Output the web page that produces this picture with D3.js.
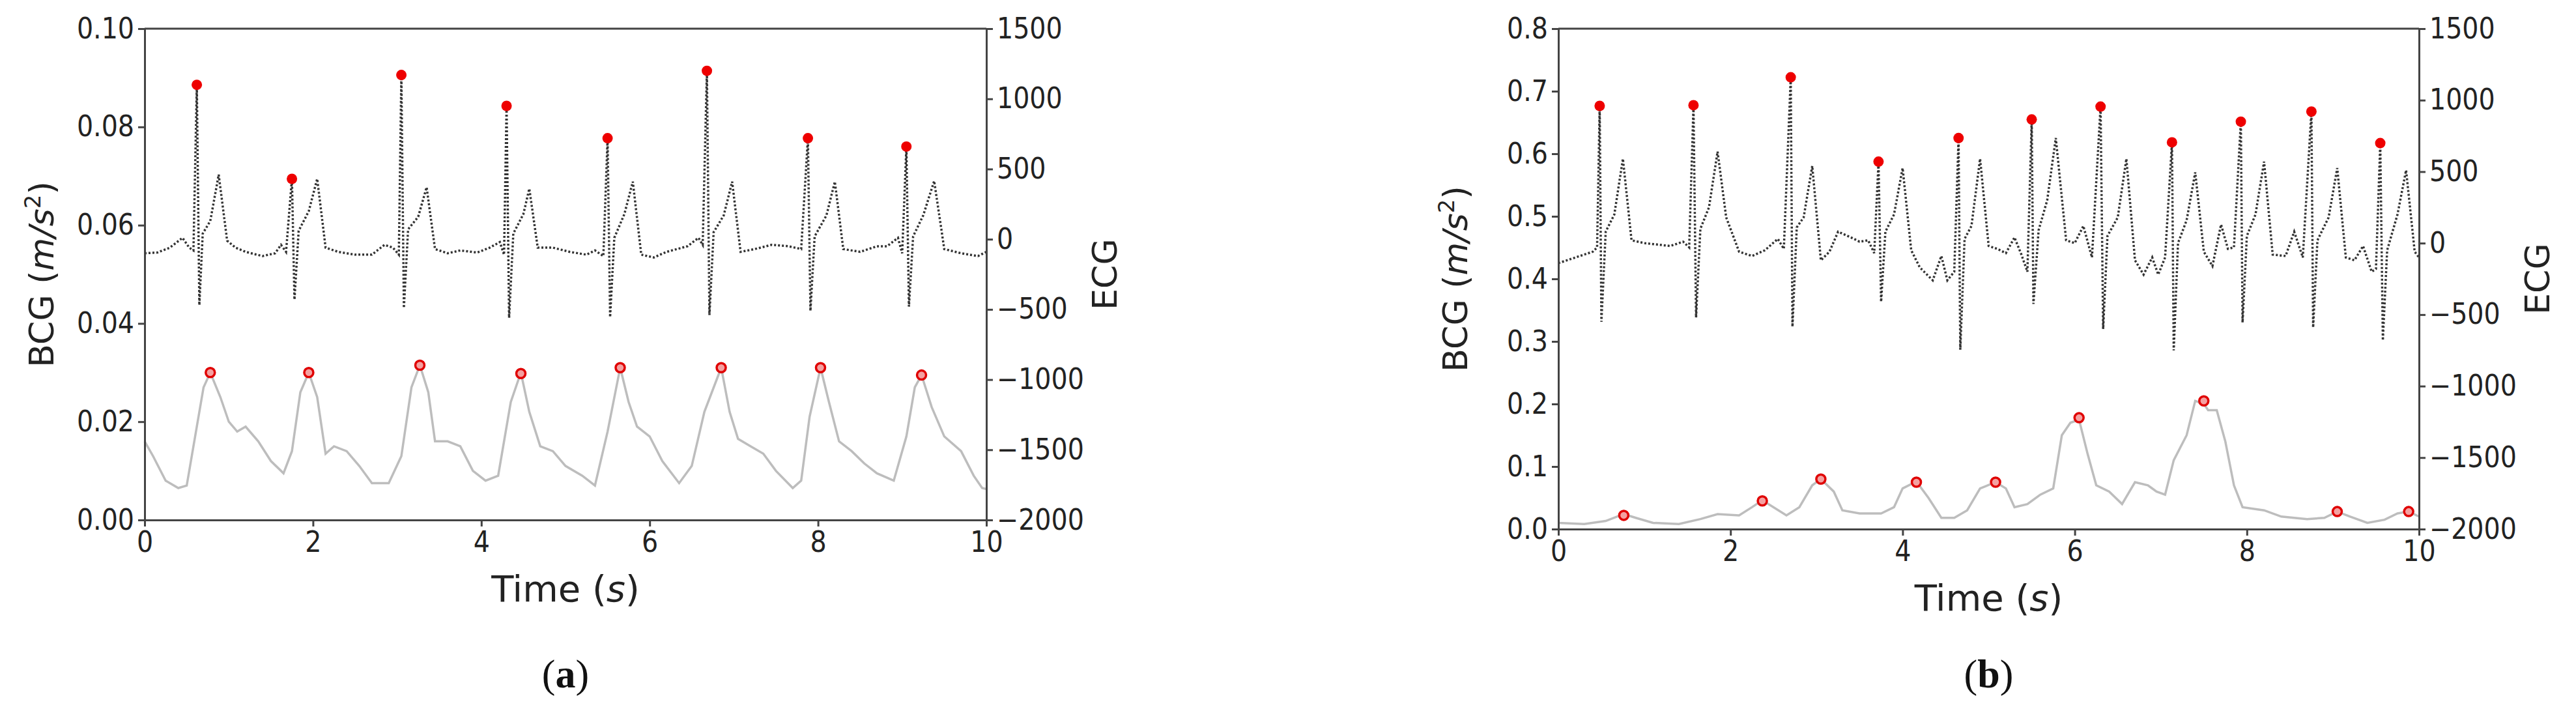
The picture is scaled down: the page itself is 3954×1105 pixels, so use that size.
<!DOCTYPE html>
<html>
<head>
<meta charset="utf-8">
<script src="https://cdn.jsdelivr.net/npm/d3@7"></script>
<style>
  body { margin: 0; background: #fff; }
  text { font-family: "DejaVu Sans", sans-serif; }
</style>
</head>
<body>
<svg id="chart" width="3954" height="1105"></svg>
<script>
'use strict';

// Panel (a) data: [time s, value]
var ecgA = [[0,-100],[0.15,-95],[0.3,-60],[0.45,10],[0.53,-60],[0.58,-80],[0.62,1100],[0.65,-470],[0.69,40],[0.78,130],[0.88,460],[0.98,-10],[1.08,-60],[1.2,-90],[1.4,-120],[1.55,-100],[1.62,-40],[1.68,-90],[1.75,430],[1.78,-430],[1.83,60],[1.95,200],[2.05,430],[2.15,-60],[2.3,-90],[2.5,-110],[2.7,-110],[2.85,-40],[2.95,-60],[3.02,-110],[3.05,1170],[3.08,-490],[3.13,70],[3.25,160],[3.35,370],[3.45,-70],[3.6,-100],[3.75,-80],[3.95,-95],[4.1,-60],[4.22,-20],[4.27,-110],[4.3,950],[4.33,-560],[4.38,40],[4.5,180],[4.57,360],[4.67,-60],[4.85,-60],[5.05,-90],[5.25,-110],[5.35,-80],[5.45,-120],[5.5,720],[5.53,-555],[5.58,10],[5.7,180],[5.8,410],[5.9,-110],[6.05,-130],[6.2,-90],[6.45,-50],[6.58,10],[6.63,-40],[6.68,1200],[6.71,-540],[6.76,50],[6.88,170],[6.98,410],[7.08,-90],[7.25,-70],[7.45,-40],[7.65,-50],[7.8,-70],[7.88,720],[7.91,-510],[7.96,20],[8.1,170],[8.2,410],[8.3,-70],[8.5,-90],[8.7,-50],[8.82,-50],[8.95,10],[9.0,-100],[9.05,660],[9.08,-480],[9.13,20],[9.25,170],[9.38,415],[9.5,-70],[9.7,-100],[9.9,-120],[10,-90]];
var ecgPeaksA = [[0.62,1100],[1.75,430],[3.05,1170],[4.3,950],[5.5,720],[6.68,1200],[7.88,720],[9.05,660]];
var bcgA = [[0,0.016],[0.1,0.013],[0.25,0.008],[0.4,0.0065],[0.5,0.007],[0.6,0.017],[0.7,0.027],[0.78,0.030],[0.9,0.025],[1.0,0.020],[1.1,0.018],[1.2,0.019],[1.35,0.016],[1.5,0.012],[1.65,0.0095],[1.75,0.014],[1.85,0.026],[1.95,0.030],[2.05,0.025],[2.15,0.0135],[2.25,0.015],[2.4,0.014],[2.55,0.011],[2.7,0.0075],[2.9,0.0075],[3.05,0.013],[3.17,0.027],[3.27,0.0315],[3.37,0.026],[3.45,0.016],[3.6,0.016],[3.75,0.015],[3.9,0.010],[4.05,0.008],[4.2,0.009],[4.35,0.024],[4.47,0.030],[4.57,0.022],[4.7,0.015],[4.85,0.014],[5.0,0.011],[5.2,0.009],[5.35,0.007],[5.5,0.018],[5.65,0.031],[5.75,0.024],[5.85,0.019],[6.0,0.017],[6.15,0.012],[6.35,0.0075],[6.5,0.011],[6.65,0.022],[6.85,0.031],[6.95,0.022],[7.05,0.0165],[7.2,0.015],[7.35,0.0135],[7.5,0.010],[7.7,0.0065],[7.8,0.008],[7.9,0.021],[8.03,0.031],[8.13,0.024],[8.25,0.016],[8.4,0.014],[8.55,0.0115],[8.7,0.0095],[8.9,0.008],[9.05,0.017],[9.15,0.027],[9.23,0.0295],[9.35,0.023],[9.5,0.017],[9.7,0.014],[9.85,0.009],[9.95,0.0065],[10,0.0063]];
var bcgPeaksA = [[0.78,0.030],[1.95,0.030],[3.27,0.0315],[4.47,0.0298],[5.65,0.031],[6.85,0.031],[8.03,0.031],[9.23,0.0295]];

// Panel (b) data
var ecgB = [[0,-140],[0.15,-110],[0.3,-80],[0.4,-60],[0.45,-30],[0.48,960],[0.5,-550],[0.55,80],[0.65,200],[0.75,590],[0.85,20],[1.0,0],[1.15,-10],[1.3,-20],[1.45,10],[1.52,-30],[1.57,965],[1.6,-520],[1.65,100],[1.75,250],[1.85,640],[1.95,180],[2.1,-60],[2.25,-90],[2.4,-50],[2.55,30],[2.62,-40],[2.7,1160],[2.72,-585],[2.77,110],[2.85,180],[2.95,540],[3.05,-120],[3.15,-60],[3.25,80],[3.4,40],[3.5,10],[3.6,20],[3.67,-70],[3.72,570],[3.75,-410],[3.8,80],[3.9,200],[4.0,525],[4.1,-50],[4.2,-170],[4.35,-260],[4.45,-90],[4.52,-260],[4.6,-200],[4.65,735],[4.67,-745],[4.72,30],[4.8,120],[4.9,590],[5.0,-20],[5.1,-40],[5.2,-70],[5.3,40],[5.38,-80],[5.45,-200],[5.5,865],[5.52,-425],[5.58,90],[5.68,300],[5.78,735],[5.9,20],[6.0,0],[6.1,120],[6.2,-100],[6.3,955],[6.33,-600],[6.38,50],[6.5,180],[6.6,590],[6.7,-120],[6.8,-220],[6.9,-100],[6.97,-220],[7.05,-100],[7.13,705],[7.15,-750],[7.2,0],[7.3,160],[7.4,495],[7.5,-60],[7.6,-160],[7.7,130],[7.78,-40],[7.85,-30],[7.93,850],[7.95,-555],[8.0,50],[8.1,200],[8.2,570],[8.3,-80],[8.45,-90],[8.55,80],[8.65,-100],[8.75,920],[8.77,-590],[8.82,20],[8.95,180],[9.05,525],[9.15,-100],[9.25,-120],[9.35,-20],[9.45,-200],[9.5,-180],[9.55,700],[9.58,-680],[9.63,-50],[9.75,200],[9.85,510],[9.95,-60],[10,-100]];
var ecgPeaksB = [[0.48,960],[1.57,965],[2.7,1160],[3.72,570],[4.65,735],[5.5,865],[6.3,955],[7.13,705],[7.93,850],[8.75,920],[9.55,700]];
var bcgB = [[0,0.01],[0.3,0.008],[0.55,0.013],[0.76,0.024],[0.9,0.018],[1.1,0.01],[1.4,0.008],[1.65,0.016],[1.85,0.024],[2.1,0.022],[2.25,0.035],[2.37,0.046],[2.5,0.035],[2.65,0.022],[2.8,0.035],[2.95,0.07],[3.05,0.08],[3.2,0.06],[3.3,0.03],[3.5,0.025],[3.75,0.025],[3.9,0.035],[4.0,0.065],[4.16,0.076],[4.3,0.05],[4.45,0.018],[4.6,0.018],[4.75,0.03],[4.9,0.065],[5.08,0.075],[5.2,0.065],[5.3,0.035],[5.45,0.04],[5.6,0.055],[5.75,0.065],[5.85,0.15],[5.95,0.17],[6.05,0.175],[6.15,0.12],[6.25,0.07],[6.4,0.06],[6.55,0.04],[6.7,0.075],[6.85,0.07],[6.95,0.06],[7.05,0.055],[7.15,0.11],[7.3,0.15],[7.4,0.205],[7.5,0.2],[7.55,0.19],[7.65,0.19],[7.75,0.14],[7.85,0.07],[7.95,0.035],[8.2,0.03],[8.4,0.02],[8.7,0.016],[8.9,0.018],[9.05,0.028],[9.2,0.02],[9.4,0.01],[9.6,0.015],[9.75,0.025],[9.88,0.028],[10,0.02]];
var bcgPeaksB = [[0.76,0.022],[2.37,0.045],[3.05,0.08],[4.16,0.075],[5.08,0.075],[6.05,0.178],[7.5,0.205],[9.05,0.028],[9.88,0.028]];

var xTicks = [0, 2, 4, 6, 8, 10];
var ecgTicks = [-2000, -1500, -1000, -500, 0, 500, 1000, 1500];
var bcgTicksA = [0, 0.02, 0.04, 0.06, 0.08, 0.10];
var bcgTicksB = [0, 0.1, 0.2, 0.3, 0.4, 0.5, 0.6, 0.7, 0.8];

var svg = d3.select('#chart');

function drawPanel(opt) {
  var x = d3.scaleLinear().domain([0, 10]).range([opt.left, opt.right]);
  var yL = d3.scaleLinear().domain(opt.bcgDomain).range([opt.bottom, opt.top]);
  var yR = d3.scaleLinear().domain([-2000, 1500]).range([opt.bottom, opt.top]);
  var g = svg.append('g');

  var line = function(ys) {
    return d3.line().x(function(d) { return x(d[0]); }).y(function(d) { return ys(d[1]); });
  };

  g.append('path').datum(opt.bcg)
    .attr('fill', 'none').attr('stroke', '#bdbdbd').attr('stroke-width', 3.5)
    .attr('d', line(yL));
  g.append('path').datum(opt.ecg)
    .attr('fill', 'none').attr('stroke', '#333').attr('stroke-width', 3.5)
    .attr('stroke-dasharray', '3,3')
    .attr('d', line(yR));

  g.selectAll('circle.ecgpk').data(opt.ecgPeaks).enter().append('circle')
    .attr('cx', function(d) { return x(d[0]); })
    .attr('cy', function(d) { return yR(d[1]); })
    .attr('r', 8).attr('fill', '#ee0000');
  g.selectAll('circle.bcgpk').data(opt.bcgPeaks).enter().append('circle')
    .attr('cx', function(d) { return x(d[0]); })
    .attr('cy', function(d) { return yL(d[1]); })
    .attr('r', 7).attr('fill', '#f4a0a0').attr('stroke', '#e00000').attr('stroke-width', 3.5);

  var styleAxis = function(sel) {
    sel.selectAll('path.domain').attr('stroke', '#444').attr('stroke-width', 3);
    sel.selectAll('line').attr('stroke', '#444').attr('stroke-width', 3);
    sel.selectAll('text').attr('font-size', 44).attr('fill', '#222')
      .style('font-family', '"DejaVu Sans Condensed", "DejaVu Sans", sans-serif');
  };

  g.append('g').attr('transform', 'translate(0,' + opt.bottom + ')')
    .call(d3.axisBottom(x).tickValues(xTicks).tickSize(10).tickPadding(8).tickFormat(d3.format('d')))
    .call(styleAxis);
  g.append('g').attr('transform', 'translate(' + opt.left + ',0)')
    .call(d3.axisLeft(yL).tickValues(opt.bcgTicks).tickSize(10).tickPadding(6).tickFormat(d3.format(opt.fmt)))
    .call(styleAxis);
  g.append('g').attr('transform', 'translate(' + opt.right + ',0)')
    .call(d3.axisRight(yR).tickValues(ecgTicks).tickSize(10).tickPadding(6)
      .tickFormat(function(d) { return d < 0 ? '\u2212' + Math.abs(d) : d; }))
    .call(styleAxis);
  g.append('line').attr('x1', opt.left).attr('x2', opt.right)
    .attr('y1', opt.top).attr('y2', opt.top).attr('stroke', '#444').attr('stroke-width', 3);

  var cx = (opt.left + opt.right) / 2;
  var cy = (opt.top + opt.bottom) / 2;
  g.append('text').attr('x', cx).attr('y', opt.bottom + 125)
    .attr('text-anchor', 'middle').attr('font-size', 56).attr('fill', '#222')
    .html('Time (<tspan font-style="italic">s</tspan>)');
  g.append('text').attr('transform', 'translate(' + (opt.left - 140) + ',' + cy + ') rotate(-90)')
    .attr('text-anchor', 'middle').attr('font-size', 52).attr('fill', '#222')
    .html('BCG (<tspan font-style="italic">m/s</tspan><tspan font-size="34" dy="-20">2</tspan><tspan dy="20">)</tspan>');
  g.append('text').attr('transform', 'translate(' + (opt.right + 200) + ',' + cy + ') rotate(-90)')
    .attr('text-anchor', 'middle').attr('font-size', 52).attr('fill', '#222').text('ECG');
  g.append('text').attr('x', cx).attr('y', 1055)
    .attr('text-anchor', 'middle').attr('font-size', 62).attr('fill', '#111')
    .style('font-family', '"Liberation Serif", serif')
    .html('(<tspan font-weight="bold">' + opt.label + '</tspan>)');
}

drawPanel({left: 222, right: 1514, top: 44, bottom: 798, bcgDomain: [0, 0.10], bcgTicks: bcgTicksA, fmt: '.2f',
  ecg: ecgA, ecgPeaks: ecgPeaksA, bcg: bcgA, bcgPeaks: bcgPeaksA, label: 'a'});
drawPanel({left: 2392, right: 3713, top: 44, bottom: 812, bcgDomain: [0, 0.8], bcgTicks: bcgTicksB, fmt: '.1f',
  ecg: ecgB, ecgPeaks: ecgPeaksB, bcg: bcgB, bcgPeaks: bcgPeaksB, label: 'b'});
</script>
</body>
</html>
